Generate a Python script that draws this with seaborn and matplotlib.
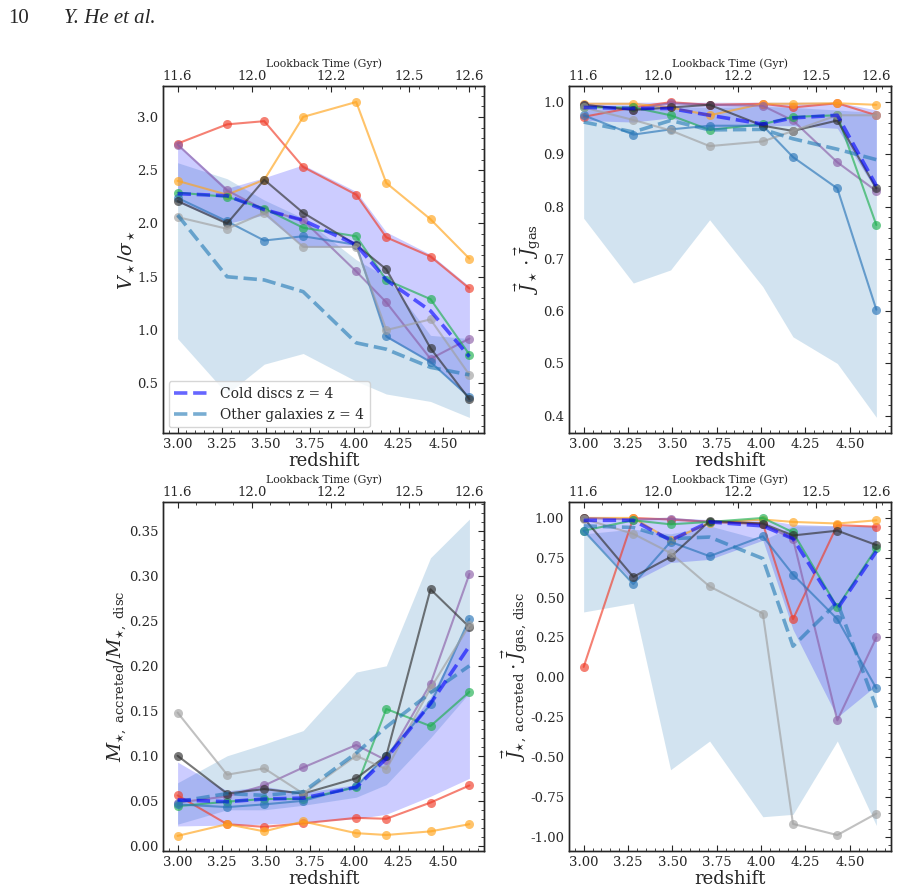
import matplotlib
matplotlib.use("Agg")
import matplotlib.pyplot as plt
import seaborn as sns
from matplotlib.ticker import AutoMinorLocator, FixedLocator, MultipleLocator

# ---------------- data ----------------
redshift = [3.00, 3.28, 3.49, 3.71, 4.01, 4.18, 4.43, 4.65]
lookback_tick_z = [3.00, 3.42, 3.87, 4.31, 4.65]
lookback_tick_labels = ["11.6", "12.0", "12.2", "12.5", "12.6"]

galaxy_keys = ["red", "orange", "purple", "green", "blue", "dgray", "lgray"]
galaxy_colors = ["#f03c28", "#ffa31a", "#8c5fa8", "#1fb050", "#2a75b8", "#303030", "#a0a0a0"]

# panel 1: V/sigma
vsig_red = [2.75, 2.93, 2.96, 2.53, 2.27, 1.87, 1.69, 1.39]
vsig_orange = [2.40, 2.27, 2.41, 3.00, 3.14, 2.38, 2.04, 1.67]
vsig_purple = [2.74, 2.31, 2.13, 2.03, 1.55, 1.26, 0.73, 0.92]
vsig_green = [2.29, 2.25, 2.14, 1.96, 1.88, 1.47, 1.29, 0.77]
vsig_blue = [2.24, 2.02, 1.84, 1.88, 1.80, 0.94, 0.70, 0.37]
vsig_dgray = [2.21, 2.00, 2.41, 2.10, 1.80, 1.57, 0.83, 0.35]
vsig_lgray = [2.06, 1.95, 2.10, 1.78, 1.78, 1.00, 1.10, 0.58]
vsig_cold_med = [2.28, 2.26, 2.13, 2.03, 1.80, 1.47, 1.18, 0.75]
vsig_cold_lo = [2.20, 2.00, 2.08, 1.78, 1.78, 0.93, 0.70, 0.36]
vsig_cold_hi = [2.75, 2.33, 2.43, 2.55, 2.30, 1.92, 1.71, 1.41]
vsig_other_med = [2.08, 1.50, 1.47, 1.36, 0.88, 0.82, 0.65, 0.58]
vsig_other_lo = [0.92, 0.40, 0.68, 0.78, 0.52, 0.40, 0.33, 0.18]
vsig_other_hi = [2.57, 2.42, 2.22, 2.05, 1.66, 1.50, 0.95, 0.92]

# panel 2: J_star . J_gas
jg_red = [0.972, 0.990, 1.000, 0.995, 0.997, 0.990, 0.998, 0.975]
jg_orange = [0.997, 0.997, 0.990, 0.975, 0.997, 0.997, 0.998, 0.995]
jg_purple = [0.995, 0.986, 0.998, 0.995, 0.993, 0.965, 0.885, 0.830]
jg_green = [0.990, 0.990, 0.975, 0.947, 0.958, 0.972, 0.975, 0.765]
jg_blue = [0.975, 0.938, 0.948, 0.955, 0.955, 0.895, 0.835, 0.603]
jg_dgray = [0.995, 0.985, 0.990, 0.995, 0.955, 0.945, 0.965, 0.835]
jg_lgray = [0.990, 0.966, 0.946, 0.916, 0.925, 0.945, 0.975, 0.975]
jg_cold_med = [0.990, 0.988, 0.988, 0.975, 0.958, 0.970, 0.975, 0.840]
jg_cold_lo = [0.965, 0.962, 0.970, 0.950, 0.955, 0.955, 0.950, 0.830]
jg_cold_hi = [1.000, 1.000, 1.000, 1.000, 1.000, 1.000, 1.000, 0.985]
jg_other_med = [0.962, 0.943, 0.965, 0.947, 0.948, 0.930, 0.910, 0.890]
jg_other_lo = [0.778, 0.654, 0.679, 0.775, 0.647, 0.551, 0.500, 0.397]
jg_other_hi = [0.985, 0.990, 0.992, 0.990, 0.992, 0.990, 0.985, 0.980]

# panel 3: M_accreted / M_disc
ma_red = [0.056, 0.024, 0.021, 0.025, 0.031, 0.030, 0.048, 0.067]
ma_orange = [0.011, 0.024, 0.016, 0.027, 0.014, 0.012, 0.016, 0.024]
ma_purple = [0.048, 0.055, 0.067, 0.087, 0.112, 0.095, 0.180, 0.302]
ma_green = [0.044, 0.049, 0.052, 0.052, 0.065, 0.152, 0.133, 0.171]
ma_blue = [0.046, 0.043, 0.046, 0.050, 0.066, 0.100, 0.157, 0.252]
ma_dgray = [0.100, 0.058, 0.063, 0.058, 0.075, 0.100, 0.285, 0.243]
ma_lgray = [0.148, 0.079, 0.086, 0.058, 0.100, 0.085, 0.175, 0.245]
ma_cold_med = [0.051, 0.049, 0.052, 0.053, 0.065, 0.097, 0.158, 0.222]
ma_cold_lo = [0.022, 0.023, 0.024, 0.026, 0.030, 0.035, 0.055, 0.075]
ma_cold_hi = [0.093, 0.061, 0.066, 0.059, 0.068, 0.102, 0.165, 0.250]
ma_other_med = [0.049, 0.058, 0.056, 0.060, 0.103, 0.132, 0.170, 0.200]
ma_other_lo = [0.024, 0.040, 0.040, 0.045, 0.054, 0.068, 0.120, 0.170]
ma_other_hi = [0.070, 0.100, 0.113, 0.128, 0.193, 0.200, 0.320, 0.363]

# panel 4: J_accreted . J_gas,disc
ja_red = [0.065, 1.000, 0.990, 0.975, 0.965, 0.365, 0.955, 0.945]
ja_orange = [1.000, 1.000, 0.860, 0.970, 0.990, 0.975, 0.965, 0.985]
ja_purple = [1.000, 0.990, 0.995, 0.975, 0.960, 0.870, -0.270, 0.250]
ja_green = [0.920, 0.985, 0.960, 0.975, 1.000, 0.910, 0.440, 0.810]
ja_blue = [0.920, 0.585, 0.850, 0.760, 0.885, 0.645, 0.365, -0.070]
ja_dgray = [1.000, 0.630, 0.755, 0.980, 0.965, 0.890, 0.920, 0.830]
ja_lgray = [0.995, 0.900, 0.780, 0.570, 0.400, -0.920, -0.990, -0.855]
ja_cold_med = [0.985, 0.985, 0.860, 0.975, 0.950, 0.870, 0.430, 0.790]
ja_cold_lo = [0.92, 0.60, 0.72, 0.74, 0.86, 0.30, -0.25, -0.05]
ja_cold_hi = [1.00, 1.00, 1.00, 0.99, 0.99, 0.96, 0.95, 0.95]
ja_other_med = [0.950, 0.940, 0.870, 0.880, 0.745, 0.195, 0.470, -0.190]
ja_other_lo = [0.41, 0.465, -0.58, -0.40, -0.875, -0.86, -0.40, -0.93]
ja_other_hi = [0.90, 0.93, 0.90, 0.95, 0.86, 0.95, 0.95, 0.95]

panels = [
    dict(gal=[vsig_red, vsig_orange, vsig_purple, vsig_green, vsig_blue, vsig_dgray, vsig_lgray],
         cmed=vsig_cold_med, clo=vsig_cold_lo, chi=vsig_cold_hi,
         omed=vsig_other_med, olo=vsig_other_lo, ohi=vsig_other_hi,
         ylabel=r"$V_\star/\sigma_\star$", ylim=(0.034, 3.29), ymajor=0.5, fmt="%.1f", legend=True),
    dict(gal=[jg_red, jg_orange, jg_purple, jg_green, jg_blue, jg_dgray, jg_lgray],
         cmed=jg_cold_med, clo=jg_cold_lo, chi=jg_cold_hi,
         omed=jg_other_med, olo=jg_other_lo, ohi=jg_other_hi,
         ylabel=r"$\vec{J}_\star\cdot\vec{J}_{\rm gas}$", ylim=(0.367, 1.031), ymajor=0.1, fmt="%.1f", legend=False),
    dict(gal=[ma_red, ma_orange, ma_purple, ma_green, ma_blue, ma_dgray, ma_lgray],
         cmed=ma_cold_med, clo=ma_cold_lo, chi=ma_cold_hi,
         omed=ma_other_med, olo=ma_other_lo, ohi=ma_other_hi,
         ylabel=r"$M_{\star,\ \rm accreted}/M_{\star,\ \rm disc}$", ylim=(-0.0058, 0.382), ymajor=0.05, fmt="%.2f", legend=False),
    dict(gal=[ja_red, ja_orange, ja_purple, ja_green, ja_blue, ja_dgray, ja_lgray],
         cmed=ja_cold_med, clo=ja_cold_lo, chi=ja_cold_hi,
         omed=ja_other_med, olo=ja_other_lo, ohi=ja_other_hi,
         ylabel=r"$\vec{J}_{\star,\ \rm accreted}\cdot\vec{J}_{\rm gas,\,disc}$", ylim=(-1.09, 1.10), ymajor=0.25, fmt="%.2f", legend=False),
]

# ---------------- style ----------------
sns.set_style("white")
plt.rcParams["font.family"] = ["DejaVu Serif"]
plt.rcParams["mathtext.fontset"] = "dejavuserif"
plt.rcParams["axes.linewidth"] = 1.0

fig = plt.figure(figsize=(9.15, 8.92), dpi=100)
W, H = 915.0, 892.0
boxes = [
    (163, 86, 484, 433),
    (569, 86, 891, 433),
    (163, 502, 484, 851),
    (569, 502, 891, 851),
]

for p, (x0, y0, x1, y1) in zip(panels, boxes):
    ax = fig.add_axes([x0 / W, 1 - y1 / H, (x1 - x0) / W, (y1 - y0) / H])
    ax.fill_between(redshift, p["olo"], p["ohi"], color="tab:blue", alpha=0.2, lw=0)
    ax.fill_between(redshift, p["clo"], p["chi"], color="blue", alpha=0.2, lw=0)
    for vals, col in zip(p["gal"], galaxy_colors):
        sns.lineplot(x=redshift, y=vals, ax=ax, color=col, marker="o", markersize=6.5,
                     markeredgewidth=0, lw=1.5, alpha=0.65)
    sns.lineplot(x=redshift, y=p["omed"], ax=ax, color="tab:blue", alpha=0.6, lw=2.6,
                 ls="--", label="Other galaxies z = 4")
    sns.lineplot(x=redshift, y=p["cmed"], ax=ax, color="blue", alpha=0.6, lw=2.6,
                 ls="--", label="Cold discs z = 4")
    ax.set_xlim(2.9175, 4.7325)
    ax.set_ylim(*p["ylim"])
    ax.xaxis.set_major_locator(MultipleLocator(0.25))
    ax.yaxis.set_major_locator(MultipleLocator(p["ymajor"]))
    ax.xaxis.set_major_formatter(matplotlib.ticker.FormatStrFormatter("%.2f"))
    ax.yaxis.set_major_formatter(matplotlib.ticker.FormatStrFormatter(p["fmt"]))
    ax.xaxis.set_minor_locator(AutoMinorLocator(5))
    ax.yaxis.set_minor_locator(AutoMinorLocator(5))
    ax.tick_params(which="both", direction="in", right=True, top=False, labelsize=9.5)
    ax.tick_params(which="major", length=4)
    ax.tick_params(which="minor", length=2)
    ax.set_xlabel("redshift", fontsize=13, labelpad=1)
    ax.set_ylabel(p["ylabel"], fontsize=13.5, labelpad=0)
    if p["legend"]:
        h, l = ax.get_legend_handles_labels()
        ax.legend(h[::-1], l[::-1], loc="lower left", fontsize=10, handlelength=2.5,
                  borderaxespad=0.4)
    else:
        lg = ax.get_legend()
        if lg is not None:
            lg.remove()

    top = ax.twiny()
    top.set_xlim(ax.get_xlim())
    top.xaxis.set_major_locator(FixedLocator(lookback_tick_z))
    top.set_xticklabels(lookback_tick_labels)
    top.xaxis.set_minor_locator(AutoMinorLocator(4))
    top.tick_params(which="both", direction="in", labelsize=9.5, pad=2)
    top.tick_params(which="major", length=4)
    top.tick_params(which="minor", length=2)
    top.set_xlabel("Lookback Time (Gyr)", fontsize=7.8, labelpad=2)

fig.text(8 / W, 1 - 23 / H, "10", fontsize=15, family=["Liberation Serif"], va="baseline")
fig.text(64 / W, 1 - 23 / H, "Y. He et al.", fontsize=15, family=["Liberation Serif"],
         style="italic", va="baseline")

fig.savefig("out.png", dpi=100)
